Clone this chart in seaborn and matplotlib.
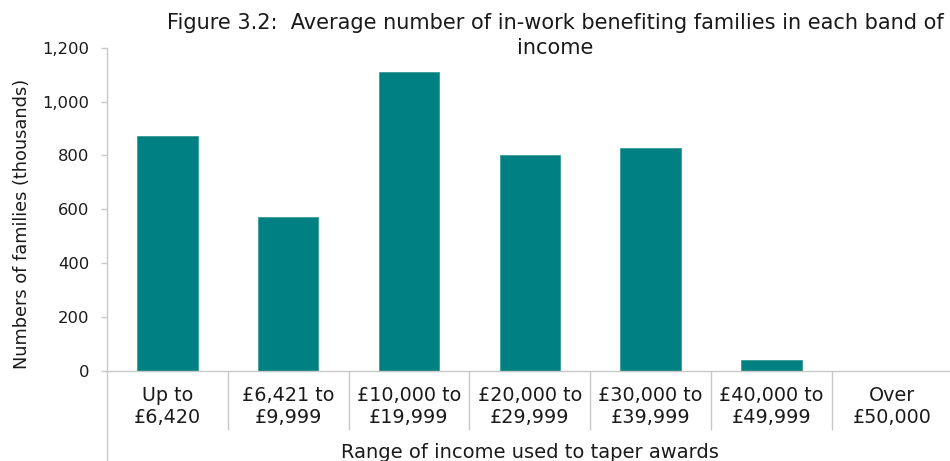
import matplotlib
matplotlib.use("Agg")
import matplotlib.pyplot as plt
import seaborn as sns
import pandas as pd
from matplotlib.lines import Line2D
from matplotlib.ticker import FuncFormatter, MultipleLocator, FixedLocator

# Income bands and average number of in-work benefiting families (thousands)
bands = [
    "Up to\n£6,420",
    "£6,421 to\n£9,999",
    "£10,000 to\n£19,999",
    "£20,000 to\n£29,999",
    "£30,000 to\n£39,999",
    "£40,000 to\n£49,999",
    "Over\n£50,000",
]
families = [873, 571, 1110, 800, 826, 40, 0]

title = "Figure 3.2:  Average number of in-work benefiting families in each band of\nincome"
x_title = "Range of income used to taper awards"
y_title = "Numbers of families (thousands)"

sns.set_theme(style="white")
plt.rcParams["font.family"] = ["DejaVu Sans"]

BAR = "#008080"
AXIS = "#c8c8c8"
TEXT = "#1a1a1a"

df = pd.DataFrame({"band": bands, "families": families})

W, H = 950, 461
fig = plt.figure(figsize=(W / 100, H / 100), dpi=100)
fig.patch.set_facecolor("white")
ax = fig.add_axes([107 / W, (H - 370.7) / H, 845.5 / W, 323 / H])

sns.barplot(data=df, x="band", y="families", color=BAR, width=0.5,
            saturation=1, edgecolor="#3a9b9b", linewidth=0.6, ax=ax)

ax.set_ylim(0, 1200)
ax.set_xlim(-0.5, len(bands) - 0.5)
ax.yaxis.set_major_locator(MultipleLocator(200))
ax.yaxis.set_major_formatter(FuncFormatter(lambda v, p: f"{int(v):,}"))

for s in ("top", "right"):
    ax.spines[s].set_visible(False)
for s in ("left", "bottom"):
    ax.spines[s].set_color(AXIS)
    ax.spines[s].set_linewidth(1.0)

ax.tick_params(axis="y", which="major", left=True, length=4.5, width=1.0,
               color=AXIS, labelsize=11.8, labelcolor=TEXT, pad=8)
# category labels without ticks; separators drawn as minor ticks between bands
ax.tick_params(axis="x", which="major", bottom=False, length=0,
               labelsize=13.8, labelcolor=TEXT, pad=11)
ax.xaxis.set_minor_locator(FixedLocator([i + 0.5 for i in range(len(bands) - 1)]))
ax.tick_params(axis="x", which="minor", bottom=True, length=42.5, width=1.0,
               color=AXIS)
for lab in ax.get_xticklabels():
    lab.set_linespacing(1.18)

# value axis line continues down past the category labels
ax.add_line(Line2D([0, 0], [0, -0.29], transform=ax.transAxes, color=AXIS,
                   linewidth=1.0, clip_on=False))

ax.set_xlabel("")
ax.set_ylabel("")
fig.text(530 / W, 1 - 443 / H, x_title, ha="center", va="top",
         fontsize=14, color=TEXT)
fig.text(22 / W, 1 - 224 / H, y_title, ha="center", va="center",
         rotation=90, fontsize=12.8, color=TEXT)
fig.text(555 / W, 1 - 13 / H, title, ha="center", va="top",
         fontsize=15, color=TEXT, multialignment="center", linespacing=1.32)

fig.savefig("out.png", dpi=100, facecolor="white")
